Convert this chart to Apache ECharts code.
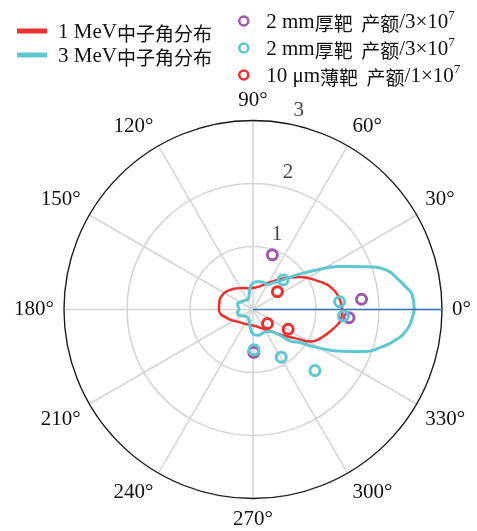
<!DOCTYPE html>
<html>
<head>
<meta charset="utf-8">
<script src="https://cdn.jsdelivr.net/npm/echarts@6/dist/echarts.min.js"></script>
<style>
html,body{margin:0;padding:0;background:#fff;}
#c{width:477px;height:531px;}
</style>
</head>
<body>
<div id="c"></div>
<script>
// ---- data ----
const angleTicks = [0, 30, 60, 90, 120, 150, 180, 210, 240, 270, 300, 330];
const radiusTicks = [1, 2, 3];
const radiusTickLabels = ['1', '2', '3'];

const red1Angles = [0, 6, 12, 18, 23, 29, 35, 42, 49, 58, 69, 80, 92, 105, 116, 127, 140, 151, 165, 180, 188, 196, 205, 213, 225, 242, 260, 280, 295, 305, 313, 320, 326, 331, 338, 346, 353, 360];
const red1Radii  = [1.42, 1.39, 1.34, 1.25, 1.14, 1.02, 0.90, 0.76, 0.63, 0.51, 0.41, 0.36, 0.34, 0.35, 0.38, 0.42, 0.48, 0.53, 0.55, 0.54, 0.52, 0.45, 0.39, 0.34, 0.29, 0.26, 0.25, 0.27, 0.33, 0.40, 0.50, 0.65, 0.82, 1.05, 1.18, 1.30, 1.40, 1.42];

const cyan3Angles = [0, 5, 8.5, 11.5, 16.6, 20.8, 26.5, 32, 38, 44.5, 53.6, 60, 70, 80, 90, 97, 105, 115, 130, 145, 160, 170, 180, 190, 203, 215, 230, 250, 262, 272, 283, 295, 306, 315, 320, 325, 328, 332, 335, 339, 344, 349, 352, 355, 360];
const cyan3Radii  = [2.56, 2.54, 2.45, 2.36, 2.20, 1.91, 1.53, 1.18, 0.90, 0.67, 0.52, 0.46, 0.46, 0.45, 0.42, 0.36, 0.24, 0.18, 0.19, 0.22, 0.26, 0.24, 0.22, 0.25, 0.24, 0.18, 0.15, 0.18, 0.30, 0.40, 0.42, 0.40, 0.43, 0.55, 0.78, 0.92, 1.10, 1.37, 1.57, 1.86, 2.14, 2.36, 2.45, 2.51, 2.56];

const refAngles = [0, 0];
const refRadii = [0, 3];

const thickPurpleAngles = [70.5, 5.4, 355.1, 271];
const thickPurpleRadii  = [0.92, 1.73, 1.53, 0.68];

const thickCyanAngles = [44.5, 5.1, 355.9, 271.4, 300.6, 315.4];
const thickCyanRadii  = [0.67, 1.38, 1.44, 0.64, 0.88, 1.38];

const thinRedAngles = [36.2, 316, 330.7];
const thinRedRadii  = [0.48, 0.32, 0.64];

const lineNames = ['1 MeV中子角分布', '3 MeV中子角分布'];
const scatterNames = ['2 mm厚靶 产额/3×10^7 (a)', '2 mm厚靶 产额/3×10^7 (b)', '10 μm薄靶 产额/1×10^7'];

// ---- styles ----
const LATIN = "'Liberation Serif', 'DejaVu Serif', serif";
const CJK = "'Noto Sans CJK SC', sans-serif";
const RED = '#e8312f', CYAN = '#5ec7d1', PURPLE = '#9f58a8', BLUE = '#2f76b8';

function pairs(rs, as) { return rs.map((r, i) => [r, as[i]]); }

const legendLabels = {
  [lineNames[0]]: '{l|1 MeV}{c|中子角分布}',
  [lineNames[1]]: '{l|3 MeV}{c|中子角分布}',
  [scatterNames[0]]: '{l|2 mm}{c|厚靶  产额}{l|/3×10}{s|7}',
  [scatterNames[1]]: '{l|2 mm}{c|厚靶  产额}{l|/3×10}{s|7}',
  [scatterNames[2]]: '{l|10 μm}{c|薄靶  产额}{l|/1×10}{s|7}'
};
const rich = {
  l: {fontFamily: LATIN, fontSize: 21, color: '#111', lineHeight: 24, verticalAlign: 'bottom'},
  c: {fontFamily: CJK, fontSize: 19, color: '#111', lineHeight: 24, verticalAlign: 'bottom'},
  s: {fontFamily: LATIN, fontSize: 13, color: '#111', lineHeight: 24, verticalAlign: 'top'}
};

const chart = echarts.init(document.getElementById('c'), null, {renderer: 'canvas'});
const polarCommon = {center: [253, 309.5], radius: 189};

function ringSeries(name, rs, as, color, z) {
  return {
    name: name, type: 'scatter', coordinateSystem: 'polar', polarIndex: 0, clip: false,
    data: pairs(rs, as), symbol: 'circle', symbolSize: 10,
    itemStyle: {color: 'rgba(255,255,255,0)', borderColor: color, borderWidth: 3, opacity: 1},
    z: z
  };
}

const option = {
  backgroundColor: '#fff',
  animation: false,
  legend: [
    {
      data: lineNames,
      orient: 'vertical', left: 12, top: 17,
      icon: 'rect', itemWidth: 30, itemHeight: 5, itemGap: 3,
      formatter: n => legendLabels[n],
      textStyle: {rich: rich, padding: [0, 0, 0, 6]}
    },
    {
      data: scatterNames,
      orient: 'vertical', left: 233, top: 4,
      itemWidth: 9, itemHeight: 9, itemGap: 3,
      itemStyle: {borderWidth: 2.5},
      formatter: n => legendLabels[n],
      textStyle: {rich: rich, padding: [0, 0, 0, 13]}
    }
  ],
  polar: [polarCommon, polarCommon],
  angleAxis: [
    {
      polarIndex: 0, type: 'value', min: 0, max: 360, interval: 30,
      startAngle: 0, clockwise: false,
      axisLine: {show: true, lineStyle: {color: '#1a1a1a', width: 1.3}},
      axisTick: {show: false},
      axisLabel: {
        show: true, margin: 10, color: '#111', fontFamily: LATIN, fontSize: 21,
        formatter: v => (angleTicks.indexOf(v) >= 0 ? v + '°' : '')
      },
      splitLine: {show: true, lineStyle: {color: '#d4d4d4', width: 1.5}}
    },
    {
      polarIndex: 1, type: 'value', min: 0, max: 360, startAngle: 0, clockwise: false,
      show: false
    }
  ],
  radiusAxis: [
    {
      polarIndex: 0, type: 'value', min: 0, max: 3, interval: 1,
      axisLine: {show: false}, axisTick: {show: false}, axisLabel: {show: false},
      splitLine: {show: true, lineStyle: {color: '#d4d4d4', width: 1.5}}
    },
    {
      polarIndex: 1, type: 'value', min: 0, max: 3, show: false
    }
  ],
  series: [
    {
      name: 'rlabels', type: 'scatter', coordinateSystem: 'polar', polarIndex: 1,
      symbolSize: 0, silent: true, clip: false,
      data: radiusTicks.map((r, i) => ({value: [r, 80], name: radiusTickLabels[i]})),
      label: {show: true, position: 'inside', offset: [13, -13], formatter: p => p.name,
        color: '#111', fontFamily: LATIN, fontSize: 21}
    },
    {
      name: lineNames[0], type: 'line', coordinateSystem: 'polar', polarIndex: 0, clip: false,
      data: pairs(red1Radii, red1Angles), showSymbol: false, smooth: 0.5,
      lineStyle: {color: RED, width: 2.5}, itemStyle: {color: RED}, z: 3
    },
    {
      name: lineNames[1], type: 'line', coordinateSystem: 'polar', polarIndex: 0, clip: false,
      data: pairs(cyan3Radii, cyan3Angles), showSymbol: false, smooth: 0.5,
      lineStyle: {color: CYAN, width: 3}, itemStyle: {color: CYAN}, z: 3
    },
    {
      name: 'ref', type: 'line', coordinateSystem: 'polar', polarIndex: 0, clip: false,
      data: pairs(refRadii, refAngles), showSymbol: false,
      lineStyle: {color: BLUE, width: 1.6}, z: 4
    },
    ringSeries(scatterNames[0], thickPurpleRadii, thickPurpleAngles, PURPLE, 5),
    ringSeries(scatterNames[1], thickCyanRadii, thickCyanAngles, CYAN, 6),
    ringSeries(scatterNames[2], thinRedRadii, thinRedAngles, RED, 7)
  ]
};
chart.setOption(option);
</script>
</body>
</html>
